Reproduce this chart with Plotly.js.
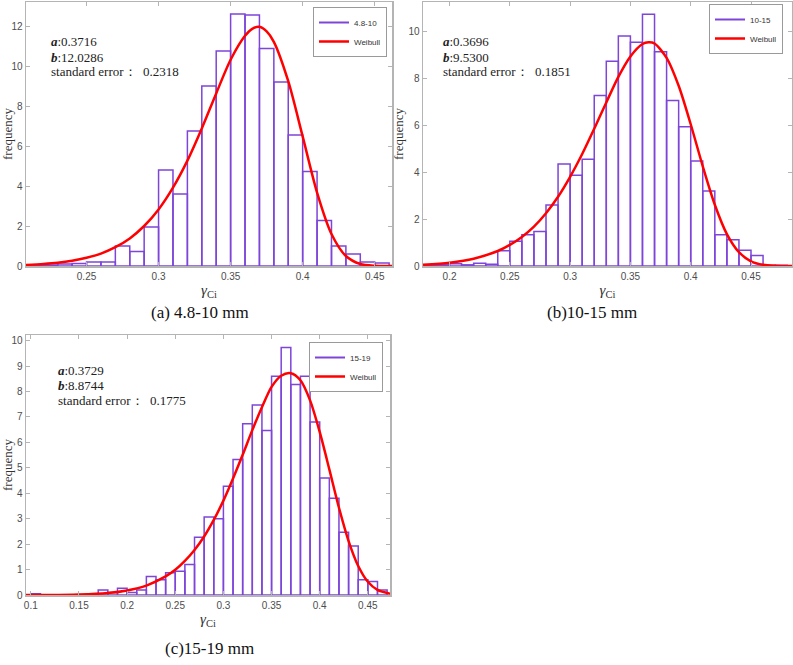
<!DOCTYPE html>
<html>
<head>
<meta charset="utf-8">
<script src="https://cdn.plot.ly/plotly-3.0.1.min.js"></script>
<style>html,body{margin:0;padding:0;background:#fff;}#chart{width:793px;height:665px;}</style>
</head>
<body>
<div id="chart"></div>
<script>
// ---------- data ----------
// (a) 4.8-10 mm
var aBinCenters = [0.215,0.225,0.235,0.245,0.255,0.265,0.275,0.285,0.295,0.305,0.315,0.325,0.335,0.345,0.355,0.365,0.375,0.385,0.395,0.405,0.415,0.425,0.435,0.445,0.455];
var aFreq = [0.02,0.05,0.1,0.13,0.2,0.2,1.0,0.73,1.95,4.8,3.6,6.75,9.0,10.75,12.6,12.55,10.88,9.2,6.55,4.72,2.27,1.0,0.6,0.2,0.15];
var aCurveX = [0.208,0.22,0.23,0.24,0.25,0.26,0.27,0.28,0.29,0.30,0.31,0.32,0.33,0.34,0.35,0.36,0.365,0.37,0.375,0.38,0.39,0.40,0.41,0.42,0.43,0.44,0.45,0.462];
var aCurveY = [0.05,0.10,0.16,0.26,0.41,0.62,0.94,1.38,2.0,2.83,3.92,5.27,6.88,8.63,10.31,11.51,11.86,11.96,11.73,11.21,9.24,6.48,3.67,1.6,0.5,0.1,0.01,0.0];

// (b) 10-15 mm
var bBinCenters = [0.185,0.195,0.205,0.215,0.225,0.235,0.245,0.255,0.265,0.275,0.285,0.295,0.305,0.315,0.325,0.335,0.345,0.355,0.365,0.375,0.385,0.395,0.405,0.415,0.425,0.435,0.445,0.455,0.465,0.475];
var bFreq = [0.03,0.05,0.1,0.05,0.12,0.07,0.65,1.05,1.33,1.47,2.6,4.35,3.87,4.55,7.27,8.73,9.8,9.53,10.73,9.13,7.05,5.93,4.47,3.2,1.33,1.12,0.67,0.45,0.03,0.03];
var bCurveX = [0.178,0.20,0.22,0.24,0.25,0.26,0.27,0.28,0.29,0.30,0.31,0.32,0.33,0.34,0.35,0.36,0.365,0.37,0.38,0.39,0.40,0.41,0.42,0.43,0.44,0.45,0.46,0.47,0.484];
var bCurveY = [0.05,0.14,0.31,0.64,0.9,1.24,1.68,2.25,2.95,3.8,4.77,5.85,6.97,8.06,8.93,9.46,9.53,9.48,8.87,7.68,6.04,4.25,2.61,1.36,0.59,0.2,0.05,0.01,0.0];

// (c) 15-19 mm
var cBinCenters = [0.105,0.115,0.125,0.135,0.145,0.155,0.165,0.175,0.185,0.195,0.205,0.215,0.225,0.235,0.245,0.255,0.265,0.275,0.285,0.295,0.305,0.315,0.325,0.335,0.345,0.355,0.365,0.375,0.385,0.395,0.405,0.415,0.425,0.435,0.445,0.455,0.465];
var cFreq = [0.05,0,0,0,0,0,0.03,0.2,0.1,0.27,0.1,0.2,0.73,0.6,0.87,0.93,1.2,2.27,3.07,3.0,4.27,5.33,6.73,7.47,6.47,8.6,9.73,8.27,8.6,6.8,4.6,3.8,2.47,1.93,0.6,0.53,0.2];
var cCurveX = [0.095,0.12,0.15,0.18,0.20,0.22,0.24,0.25,0.26,0.27,0.28,0.29,0.30,0.31,0.32,0.33,0.34,0.35,0.36,0.37,0.38,0.39,0.40,0.41,0.42,0.43,0.44,0.45,0.46,0.473];
var cCurveY = [0.0,0.0,0.02,0.08,0.18,0.37,0.73,0.99,1.34,1.77,2.3,2.95,3.71,4.58,5.51,6.48,7.38,8.18,8.62,8.72,8.44,7.65,6.41,4.94,3.43,2.12,1.14,0.52,0.2,0.05];

var seriesNames = ['4.8-10','10-15','15-19'];
var fitName = 'Weibull';
var paramA = ['0.3716','0.3696','0.3729'];
var paramB = ['12.0286','9.5300','8.8744'];
var stdErr = ['0.2318','0.1851','0.1775'];
var captions = ['(a) 4.8-10 mm','(b)10-15 mm','(c)15-19 mm'];

// ---------- styles ----------
var W = 793, H = 665;
var purple = '#7d45d8';
var red = '#ff0000';
function px(x){return x/W;}
function py(y){return 1 - y/H;}

function barTrace(x, y, name, xa, ya, lg){
  return {type:'bar', x:x, y:y, width:0.01, name:name, xaxis:xa, yaxis:ya, legend:lg, showlegend:false,
    marker:{color:'rgba(255,255,255,0)', line:{color:purple, width:1.5}}, hoverinfo:'x+y'};
}
// legend entry for the histogram, drawn as a purple line like the original
function barKey(name, xa, ya, lg){
  return {type:'scatter', mode:'lines', x:[null], y:[null], name:name, xaxis:xa, yaxis:ya, legend:lg,
    line:{color:purple, width:2}};
}
function lineTrace(x, y, xa, ya, lg){
  return {type:'scatter', mode:'lines', x:x, y:y, name:fitName, xaxis:xa, yaxis:ya, legend:lg,
    line:{color:red, width:2.5, shape:'spline', smoothing:0.8}};
}

var data = [
  barTrace(aBinCenters, aFreq, seriesNames[0], 'x', 'y', 'legend'),
  barKey(seriesNames[0], 'x', 'y', 'legend'),
  lineTrace(aCurveX, aCurveY, 'x', 'y', 'legend'),
  barTrace(bBinCenters, bFreq, seriesNames[1], 'x2', 'y2', 'legend2'),
  barKey(seriesNames[1], 'x2', 'y2', 'legend2'),
  lineTrace(bCurveX, bCurveY, 'x2', 'y2', 'legend2'),
  barTrace(cBinCenters, cFreq, seriesNames[2], 'x3', 'y3', 'legend3'),
  barKey(seriesNames[2], 'x3', 'y3', 'legend3'),
  lineTrace(cCurveX, cCurveY, 'x3', 'y3', 'legend3')
];

var tickFont = {family:'Liberation Sans, Arial, sans-serif', size:10, color:'#4d4d4d'};
function xAxis(domain, range, dtick, anchor){
  return {domain:domain, range:range, dtick:dtick, tick0:0, anchor:anchor,
    showline:true, mirror:'ticks', linecolor:'#b4b4b4', linewidth:1.5,
    ticks:'inside', ticklen:4, tickcolor:'#b4b4b4', showgrid:false, zeroline:false,
    tickfont:tickFont,
    title:{text:'<i>γ</i><sub>Ci</sub>', font:{family:'Liberation Serif, Times New Roman, serif', size:15, color:'#333'}, standoff:4}};
}
function yAxis(domain, range, dtick, anchor){
  return {domain:domain, range:range, dtick:dtick, tick0:0, anchor:anchor,
    showline:true, mirror:'ticks', linecolor:'#b4b4b4', linewidth:1.5,
    ticks:'inside', ticklen:4, tickcolor:'#b4b4b4', showgrid:false, zeroline:false,
    tickfont:tickFont,
    title:{text:'frequency', font:{family:'Liberation Serif, Times New Roman, serif', size:13, color:'#333'}, standoff:2}};
}
function legendBox(xr, yt){
  return {x:xr, xanchor:'right', y:yt, yanchor:'top', bgcolor:'#ffffff',
    bordercolor:'#9a9a9a', borderwidth:1, itemwidth:30, tracegroupgap:0,
    font:{family:'Liberation Sans, Arial, sans-serif', size:8, color:'#333'}};
}

var annFont = {family:'Liberation Serif, Times New Roman, serif', size:13, color:'#222'};
var annotations = [];
var annPos = [[49,42],[441,42],[56,370]];
for (var i=0;i<3;i++){
  var p = annPos[i];
  annotations.push({xref:'paper', yref:'paper', x:px(p[0]), y:py(p[1]), xanchor:'left', yanchor:'middle', showarrow:false, font:annFont, text:'<b><i>a</i></b>:'+paramA[i]});
  annotations.push({xref:'paper', yref:'paper', x:px(p[0]), y:py(p[1]+15), xanchor:'left', yanchor:'middle', showarrow:false, font:annFont, text:'<b><i>b</i></b>:'+paramB[i]});
  annotations.push({xref:'paper', yref:'paper', x:px(p[0]), y:py(p[1]+30), xanchor:'left', yanchor:'middle', showarrow:false, font:annFont, text:'standard error：  '+stdErr[i]});
}
var capPos = [[200,313],[592,313],[210,648]];
for (var j=0;j<3;j++){
  annotations.push({xref:'paper', yref:'paper', x:px(capPos[j][0]), y:py(capPos[j][1]), xanchor:'center', yanchor:'middle', showarrow:false,
    font:{family:'Liberation Serif, Times New Roman, serif', size:17, color:'#111'}, text:captions[j]});
}

var layout = {
  width:W, height:H, margin:{l:0, r:0, t:0, b:0},
  paper_bgcolor:'#ffffff', plot_bgcolor:'#ffffff',
  barmode:'overlay', showlegend:true,
  xaxis: xAxis([px(26), px(392)], [0.208, 0.462], 0.05, 'y'),
  yaxis: yAxis([py(266), py(2)], [0, 13.2], 2, 'x'),
  xaxis2: xAxis([px(423), px(792)], [0.178, 0.484], 0.05, 'y2'),
  yaxis2: yAxis([py(266), py(2)], [0, 11.25], 2, 'x2'),
  xaxis3: xAxis([px(26), px(390)], [0.095, 0.473], 0.05, 'y3'),
  yaxis3: yAxis([py(595), py(335)], [0, 10.22], 1, 'x3'),
  legend: legendBox(px(387), py(7)),
  legend2: legendBox(px(783), py(4)),
  legend3: legendBox(px(383), py(342)),
  annotations: annotations
};

Plotly.newPlot('chart', data, layout, {displayModeBar:false, staticPlot:true});
</script>
</body>
</html>
